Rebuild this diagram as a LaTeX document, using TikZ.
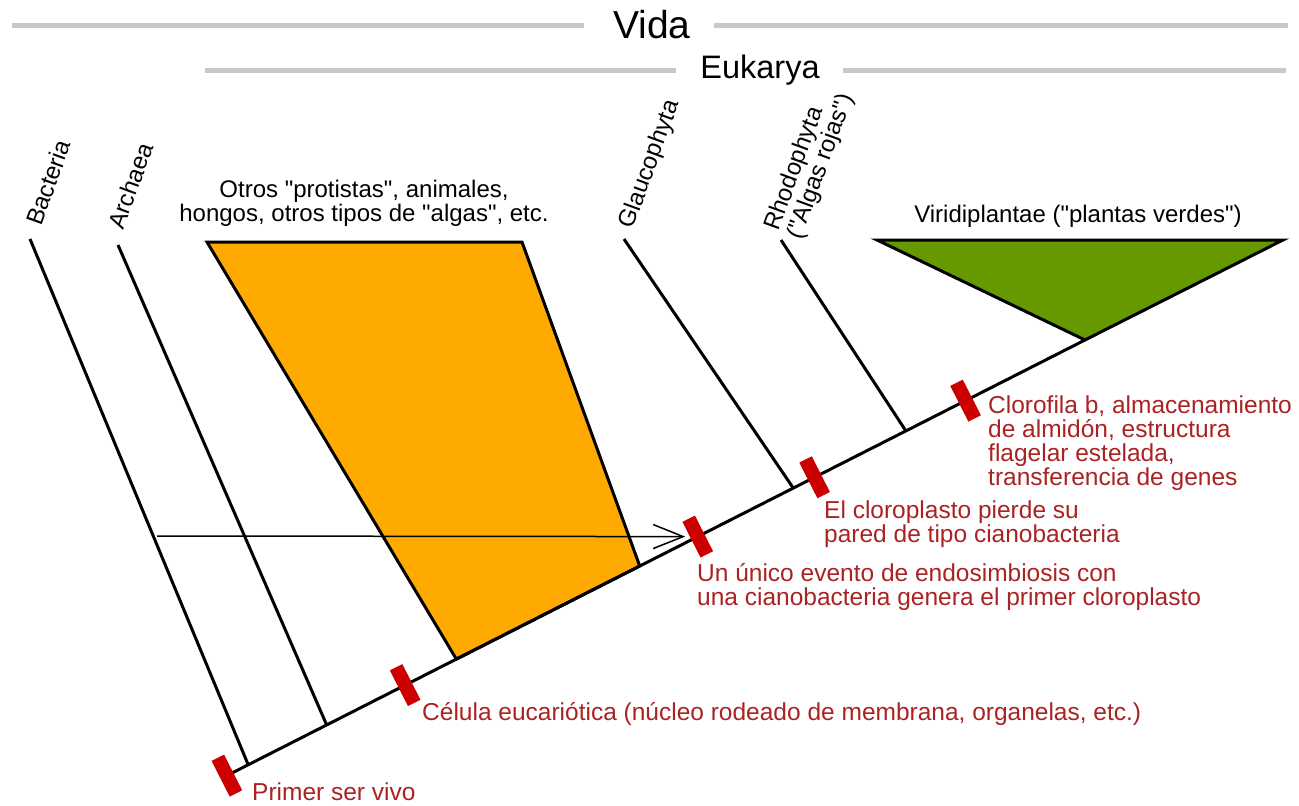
\documentclass[tikz,border=0pt]{standalone}
\usepackage{fontspec}
\newfontfamily\arial{Liberation Sans}
\usetikzlibrary{arrows.meta,calc}

\definecolor{naranja}{RGB}{255,170,0}
\definecolor{verde}{RGB}{102,153,0}
\definecolor{marcarojo}{RGB}{204,0,0}
\definecolor{textorojo}{RGB}{170,34,34}
\definecolor{gris}{RGB}{200,200,200}

\tikzset{
    rama/.style = {line width = 3pt},
    regla/.style = {color = gris, line width = 5pt},
    marca/.style = {fill = marcarojo, minimum width = 14pt, minimum height = 40pt, inner sep = 0pt},
    nota/.style = {text = textorojo, font = \arial\fontsize{24.5}{24}\selectfont, align = left, inner sep = 0pt},
    taxon/.style = {font = \arial\fontsize{24}{24}\selectfont, inner sep = 0pt},
    flecha/.style = {line width = 1.5pt, shorten > = 3pt, -{Straight Barb[length = 30pt, width = 24pt]}}
}

\begin{document}
\begin{tikzpicture}[x = 1pt, y = -1pt]
    \useasboundingbox (0,0) rectangle (1299,806);

    % grupos de arriba
    \node[taxon, font = \arial\fontsize{39}{39}\selectfont, anchor = base] (vida) at (652,38) {Vida};
    \node[taxon, font = \arial\fontsize{32.5}{32.5}\selectfont, anchor = base] (eukarya) at (760,78) {Eukarya};
    \draw[regla] (12,25) -- (584,25);
    \draw[regla] (714,25) -- (1288,25);
    \draw[regla] (205,70) -- (676,70);
    \draw[regla] (843,70) -- (1286,70);

    % tronco y puntos de union
    \coordinate (raiz) at (232,773);
    \coordinate (punta) at (1085,340);
    \coordinate (jBac) at ($(raiz)!0.019!(punta)$);
    \coordinate (jArc) at ($(raiz)!0.111!(punta)$);
    \coordinate (jOtr1) at ($(raiz)!0.263!(punta)$);
    \coordinate (jOtr2) at ($(raiz)!0.478!(punta)$);
    \coordinate (jGla) at ($(raiz)!0.658!(punta)$);
    \coordinate (jRho) at ($(raiz)!0.790!(punta)$);

    % ramas
    \coordinate (tBac) at (30,239);
    \coordinate (tArc) at (118,245);
    \coordinate (tGla) at (624,239);
    \coordinate (tRho) at (781,240);
    \draw[rama] (tBac) -- (jBac);
    \draw[rama] (tArc) -- (jArc);
    \draw[rama] (tGla) -- (jGla);
    \draw[rama] (tRho) -- (jRho);
    \draw[rama, fill = naranja] (207,242) -- (522,242) -- (jOtr2) -- (jOtr1) -- cycle;
    \draw[rama, fill = verde] (877,240) -- (1283,240) -- (punta) -- cycle;

    % tronco con marcas
    \draw[rama] (raiz) -- (punta)
        node[marca, sloped, pos = -0.006] (mPrimer) {}
        node[marca, sloped, pos = 0.203] (mCelula) {}
        node[marca, sloped, pos = 0.546] (mEndo) {}
        node[marca, sloped, pos = 0.683] (mPared) {}
        node[marca, sloped, pos = 0.860] (mClor) {};

    % flecha
    \coordinate (fIni) at (157,536);
    \draw[flecha] (fIni) -- (mEndo);

    % nombres de los grupos
    \node[taxon, rotate = 70, anchor = west] (bac) at (33,224) {Bacteria};
    \node[taxon, rotate = 70, anchor = west] (arc) at (115,228) {Archaea};
    \node[taxon, rotate = 70, anchor = west] (gla) at (627,228) {Glaucophyta};
    \node[taxon, rotate = 70, anchor = west, align = left] (rho) at (784,234) {Rhodophyta\\("Algas rojas")};
    \node[taxon, align = center, anchor = north] (otr) at (364,180) {Otros "protistas", animales,\\hongos, otros tipos de "algas", etc.};
    \node[taxon, anchor = base] (vir) at (1078,222) {Viridiplantae ("plantas verdes")};

    % caracteres
    \node[nota, anchor = base west] (nPrimer) at (252,800) {Primer ser vivo};
    \node[nota, anchor = base west] (nCelula) at (422,720) {Célula eucariótica (núcleo rodeado de membrana, organelas, etc.)};
    \node[nota, anchor = north west] (nEndo) at (697,563) {Un único evento de endosimbiosis con\\una cianobacteria genera el primer cloroplasto};
    \node[nota, anchor = north west] (nPared) at (824,501) {El cloroplasto pierde su\\pared de tipo cianobacteria};
    \node[nota, anchor = north west] (nClor) at (988,396) {Clorofila b, almacenamiento\\de almidón, estructura\\flagelar estelada,\\transferencia de genes};
\end{tikzpicture}
\end{document}
